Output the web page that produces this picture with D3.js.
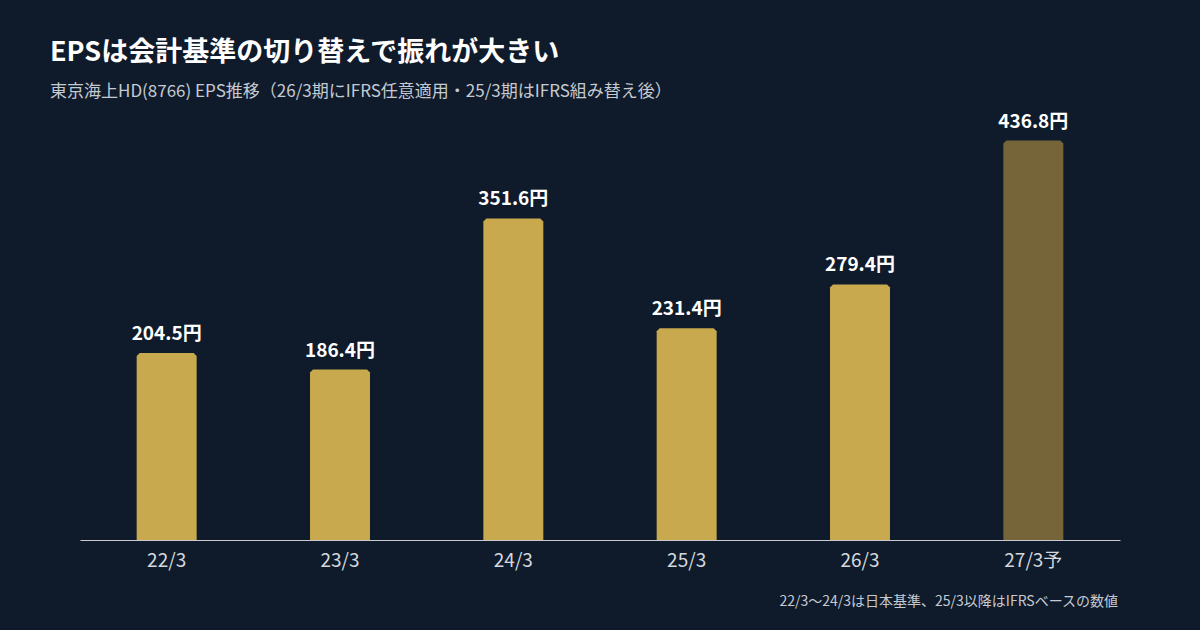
<!DOCTYPE html>
<html><head><meta charset="utf-8">
<script src="https://cdn.jsdelivr.net/npm/d3@7"></script>
<style>body{margin:0;background:#0f1b2a}svg{display:block}</style>
</head><body>
<script>
const categories = ["22/3","23/3","24/3","25/3","26/3","27/3予"];
const eps = [204.5,186.4,351.6,231.4,279.4,436.8];
const forecast = [false,false,false,false,false,true];
const W=1200,H=630;
const font="'Noto Sans CJK JP','Noto Sans',sans-serif";
const svg=d3.select("body").append("svg").attr("width",W).attr("height",H).style("background","#0f1b2a");
svg.append("text").attr("x",50).attr("y",61).attr("fill","#ffffff").attr("font-family",font).attr("font-weight",700).attr("font-size",27).text("EPSは会計基準の切り替えで振れが大きい");
svg.append("text").attr("x",50).attr("y",97).attr("fill","#c5cad2").attr("font-family",font).attr("font-size",17).text("東京海上HD(8766) EPS推移（26/3期にIFRS任意適用・25/3期はIFRS組み替え後）");
const x=d3.scaleBand().domain(categories).range([80,1120]).paddingInner(0.654).paddingOuter(0.327);
const y=d3.scaleLinear().domain([0,480]).range([540,101]);
const g=svg.append("g");
g.selectAll("path.bar").data(eps).join("path").attr("class","bar")
 .attr("fill",(d,i)=>forecast[i]?"#756539":"#c9a94e")
 .attr("d",(d,i)=>{const x0=x(categories[i]),x1=x0+x.bandwidth(),t=y(d),b=y(0),c=3;
   return `M${x0},${b}V${t+c}L${x0+c},${t}H${x1-c}L${x1},${t+c}V${b}Z`;});
g.selectAll("text.val").data(eps).join("text").attr("class","val")
 .attr("x",(d,i)=>x(categories[i])+x.bandwidth()/2).attr("y",d=>y(d)-13)
 .attr("text-anchor","middle").attr("fill","#ffffff").attr("font-family",font).attr("font-weight",700).attr("font-size",19)
 .text(d=>d.toFixed(1)+"円");
const ax=svg.append("g").attr("transform","translate(0,540)").call(d3.axisBottom(x).tickSize(0).tickPadding(14));
ax.select(".domain").attr("stroke","#c8ccd2").attr("stroke-width",1);
ax.selectAll("text").attr("fill","#d5d9df").attr("font-family",font).attr("font-size",19);
svg.append("text").attr("x",1118).attr("y",606).attr("text-anchor","end").attr("fill","#c5cad2").attr("font-family",font).attr("font-size",14).text("22/3〜24/3は日本基準、25/3以降はIFRSベースの数値");
</script>
</body></html>
